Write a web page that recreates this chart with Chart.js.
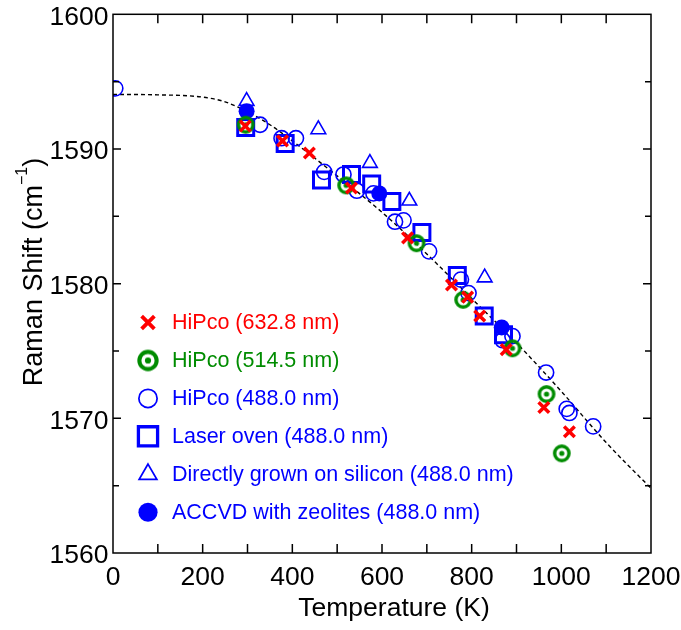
<!DOCTYPE html>
<html><head><meta charset="utf-8">
<script src="https://cdn.jsdelivr.net/npm/chart.js@4/dist/chart.umd.min.js"></script>
<style>html,body{margin:0;padding:0;background:#fff}canvas{display:block}</style>
</head><body>
<canvas id="c" width="681" height="630" style="width:681px;height:630px"></canvas>
<script>
const FONT = '"Liberation Sans", Arial, Helvetica, sans-serif';
const RED = '#ff0000', GREEN = '#008c00', BLUE = '#0000ff';

// ---- data ----
const xTickLabels = [0, 200, 400, 600, 800, 1000, 1200];
const yTickLabels = [1560, 1570, 1580, 1590, 1600];

const seriesLabels = [
  'HiPco (632.8 nm)',
  'HiPco (514.5 nm)',
  'HiPco (488.0 nm)',
  'Laser oven (488.0 nm)',
  'Directly grown on silicon (488.0 nm)',
  'ACCVD with zeolites (488.0 nm)'
];

const hipco633T     = [295, 378, 438, 532, 657, 755, 791, 818, 877, 961, 1018];
const hipco633Shift = [1591.7, 1590.6, 1589.7, 1587.1, 1583.4, 1579.9, 1579.0, 1577.6, 1575.1, 1570.8, 1569.0];

const hipco515T     = [296, 520, 677, 781, 891, 967, 1001];
const hipco515Shift = [1591.8, 1587.3, 1583.0, 1578.8, 1575.2, 1571.8, 1567.4];

const hipco488T     = [5, 328, 376, 408, 471, 514, 544, 581, 629, 648, 705, 776, 793, 869, 891, 966, 1012, 1018, 1071];
const hipco488Shift = [1594.5, 1591.8, 1590.8, 1590.8, 1588.3, 1588.1, 1586.9, 1586.7, 1584.6, 1584.7, 1582.4, 1580.3, 1579.3, 1575.8, 1576.1, 1573.4, 1570.7, 1570.4, 1569.4];

const laserT        = [296, 384, 465, 532, 577, 622, 689, 768, 828, 871];
const laserShift    = [1591.6, 1590.4, 1587.7, 1588.1, 1587.4, 1586.1, 1583.8, 1580.6, 1577.6, 1576.2];

const siliconT      = [298, 458, 573, 661, 829];
const siliconShift  = [1593.55, 1591.45, 1588.95, 1586.15, 1580.45];

const accvdT        = [298, 594, 867];
const accvdShift    = [1592.8, 1586.7, 1576.75];

const curveT        = [0, 100, 200, 250, 300, 350, 400, 500, 600, 700, 800, 900, 1000, 1100, 1200];
const curveShift    = [1594.05, 1594.02, 1593.85, 1593.5, 1592.75, 1591.8, 1590.6, 1588.0, 1585.3, 1582.2, 1578.9, 1575.6, 1572.0, 1568.2, 1564.8];

function pts(xs, ys) { return xs.map((x, i) => ({ x: x, y: ys[i] })); }

// circle-with-dot marker
function makeDotCircle(scale) {
  const s = Math.round(22 * scale);
  const c = document.createElement('canvas');
  c.width = s; c.height = s;
  const g = c.getContext('2d');
  g.strokeStyle = GREEN; g.lineWidth = 3.4 * scale;
  g.beginPath(); g.arc(s / 2, s / 2, 7.2 * scale, 0, 2 * Math.PI); g.stroke();
  g.fillStyle = GREEN;
  g.beginPath(); g.arc(s / 2, s / 2, 2.6 * scale, 0, 2 * Math.PI); g.fill();
  return c;
}
const dotCircle = makeDotCircle(1);
const dotCircleLegend = makeDotCircle(1.2);

const datasets = [
  { label: seriesLabels[0], data: pts(hipco633T, hipco633Shift), pointStyle: 'crossRot', pointRadius: 7.5,
    borderColor: RED, backgroundColor: RED, pointBorderWidth: 3.5, textColor: RED, inLegend: true },
  { label: seriesLabels[1], data: pts(hipco515T, hipco515Shift), pointStyle: dotCircle, pointRadius: 9,
    borderColor: GREEN, backgroundColor: GREEN, textColor: GREEN, inLegend: true, legendImg: dotCircleLegend },
  { label: seriesLabels[2], data: pts(hipco488T, hipco488Shift), pointStyle: 'circle', pointRadius: 7.6,
    borderColor: BLUE, backgroundColor: 'rgba(0,0,0,0)', pointBorderWidth: 1.6, textColor: BLUE, inLegend: true },
  { label: seriesLabels[3], data: pts(laserT, laserShift), pointStyle: 'rect', pointRadius: 11.3,
    borderColor: BLUE, backgroundColor: 'rgba(0,0,0,0)', pointBorderWidth: 3, textColor: BLUE, inLegend: true },
  { label: seriesLabels[4], data: pts(siliconT, siliconShift), pointStyle: 'triangle', pointRadius: 8.5,
    borderColor: BLUE, backgroundColor: 'rgba(0,0,0,0)', pointBorderWidth: 1.6, textColor: BLUE, inLegend: true },
  { label: seriesLabels[5], data: pts(accvdT, accvdShift), pointStyle: 'circle', pointRadius: 8,
    borderColor: BLUE, backgroundColor: BLUE, pointBorderWidth: 0, textColor: BLUE, inLegend: true },
  { label: 'fit', data: pts(curveT, curveShift), showLine: true, pointRadius: 0, borderColor: '#000',
    borderWidth: 1.4, borderDash: [4, 3], cubicInterpolationMode: 'monotone', fill: false, inLegend: false }
];

function drawMarker(ctx, d, x, y, k) {
  ctx.save();
  const r = d.pointRadius * k;
  ctx.strokeStyle = d.borderColor;
  ctx.fillStyle = d.backgroundColor;
  ctx.lineWidth = (d.pointBorderWidth || 1) * (k > 1 ? 1.1 : 1);
  const st = d.pointStyle;
  if (d.legendImg) {
    ctx.drawImage(d.legendImg, x - d.legendImg.width / 2, y - d.legendImg.height / 2);
  } else if (st === 'crossRot') {
    const o = r * Math.SQRT1_2;
    ctx.beginPath();
    ctx.moveTo(x - o, y - o); ctx.lineTo(x + o, y + o);
    ctx.moveTo(x - o, y + o); ctx.lineTo(x + o, y - o);
    ctx.stroke();
  } else if (st === 'circle') {
    ctx.beginPath(); ctx.arc(x, y, r, 0, 2 * Math.PI);
    ctx.fill();
    if (d.pointBorderWidth) ctx.stroke();
  } else if (st === 'rect') {
    const s = r * Math.SQRT1_2;
    ctx.beginPath(); ctx.rect(x - s, y - s, 2 * s, 2 * s); ctx.stroke();
  } else if (st === 'triangle') {
    ctx.beginPath();
    let a = 0;
    ctx.moveTo(x + Math.sin(a) * r, y - Math.cos(a) * r);
    a += 2 * Math.PI / 3; ctx.lineTo(x + Math.sin(a) * r, y - Math.cos(a) * r);
    a += 2 * Math.PI / 3; ctx.lineTo(x + Math.sin(a) * r, y - Math.cos(a) * r);
    ctx.closePath(); ctx.stroke();
  }
  ctx.restore();
}

const framePlugin = {
  id: 'frame',
  afterDraw(chart) {
    const ctx = chart.ctx, a = chart.chartArea;
    const xs = chart.scales.x, ys = chart.scales.y;
    ctx.save();
    ctx.strokeStyle = '#000';
    ctx.lineWidth = 1.5;
    ctx.strokeRect(a.left, a.top, a.right - a.left, a.bottom - a.top);
    ctx.beginPath();
    xs.ticks.forEach(t => {
      const px = xs.getPixelForValue(t.value);
      if (px <= a.left + 1 || px >= a.right - 1) return;
      ctx.moveTo(px, a.bottom); ctx.lineTo(px, a.bottom - 9);
      ctx.moveTo(px, a.top); ctx.lineTo(px, a.top + 9);
    });
    ys.ticks.forEach(t => {
      const py = ys.getPixelForValue(t.value);
      if (py <= a.top + 1 || py >= a.bottom - 1) return;
      const len = (t.value % 10 === 0) ? 8 : 6;
      ctx.moveTo(a.left, py); ctx.lineTo(a.left + len, py);
      ctx.moveTo(a.right, py); ctx.lineTo(a.right - len, py);
    });
    ctx.stroke();

    // tick labels
    ctx.fillStyle = '#000';
    ctx.font = '26.5px ' + FONT;
    ctx.textBaseline = 'alphabetic';
    ctx.textAlign = 'center';
    xTickLabels.forEach(v => {
      ctx.fillText(String(v), xs.getPixelForValue(v), 585);
    });
    ctx.textAlign = 'right';
    yTickLabels.forEach(v => {
      ctx.fillText(String(v), a.left - 4.5, ys.getPixelForValue(v) + 10.3);
    });

    // legend
    const items = chart.data.datasets.filter(d => d.inLegend);
    ctx.font = '21.5px ' + FONT;
    ctx.textBaseline = 'middle';
    ctx.textAlign = 'left';
    items.forEach((d, i) => {
      const y = 322.5 + i * 37.95;
      drawMarker(ctx, d, 148, y, 1.2);
      ctx.fillStyle = d.textColor;
      ctx.fillText(d.label, 172, y + 1);
    });

    // axis titles
    ctx.fillStyle = '#000';
    ctx.font = '26.5px ' + FONT;
    ctx.textAlign = 'center';
    ctx.textBaseline = 'alphabetic';
    ctx.fillText('Temperature (K)', 394, 616);

    ctx.save();
    ctx.translate(42, 272);
    ctx.rotate(-Math.PI / 2);
    const main = 'Raman Shift (cm', sup = '\u22121', close = ')';
    ctx.font = '27px ' + FONT;
    const w1 = ctx.measureText(main).width, w3 = ctx.measureText(close).width;
    ctx.font = '16px ' + FONT;
    const w2 = ctx.measureText(sup).width;
    const total = w1 + w2 + w3;
    let x0 = -total / 2;
    ctx.textAlign = 'left';
    ctx.font = '27px ' + FONT;
    ctx.fillText(main, x0, 0);
    ctx.font = '16px ' + FONT;
    ctx.fillText(sup, x0 + w1, -15);
    ctx.font = '27px ' + FONT;
    ctx.fillText(close, x0 + w1 + w2, 0);
    ctx.restore();
    ctx.restore();
  }
};

new Chart(document.getElementById('c'), {
  type: 'scatter',
  data: { datasets: datasets },
  options: {
    responsive: false,
    animation: false,
    layout: { padding: { top: 14, right: 30, left: 0, bottom: 0 } },
    plugins: { legend: { display: false }, tooltip: { enabled: false } },
    scales: {
      x: {
        type: 'linear', min: 0, max: 1200,
        grid: { display: false, drawTicks: false },
        border: { display: false },
        ticks: { stepSize: 100, autoSkip: false, display: false },
        afterFit: s => { s.height = 77; }
      },
      y: {
        type: 'linear', min: 1560, max: 1600,
        grid: { display: false, drawTicks: false },
        border: { display: false },
        ticks: { stepSize: 5, autoSkip: false, display: false },
        afterFit: s => { s.width = 113; }
      }
    }
  },
  plugins: [framePlugin]
});
</script>
</body></html>
